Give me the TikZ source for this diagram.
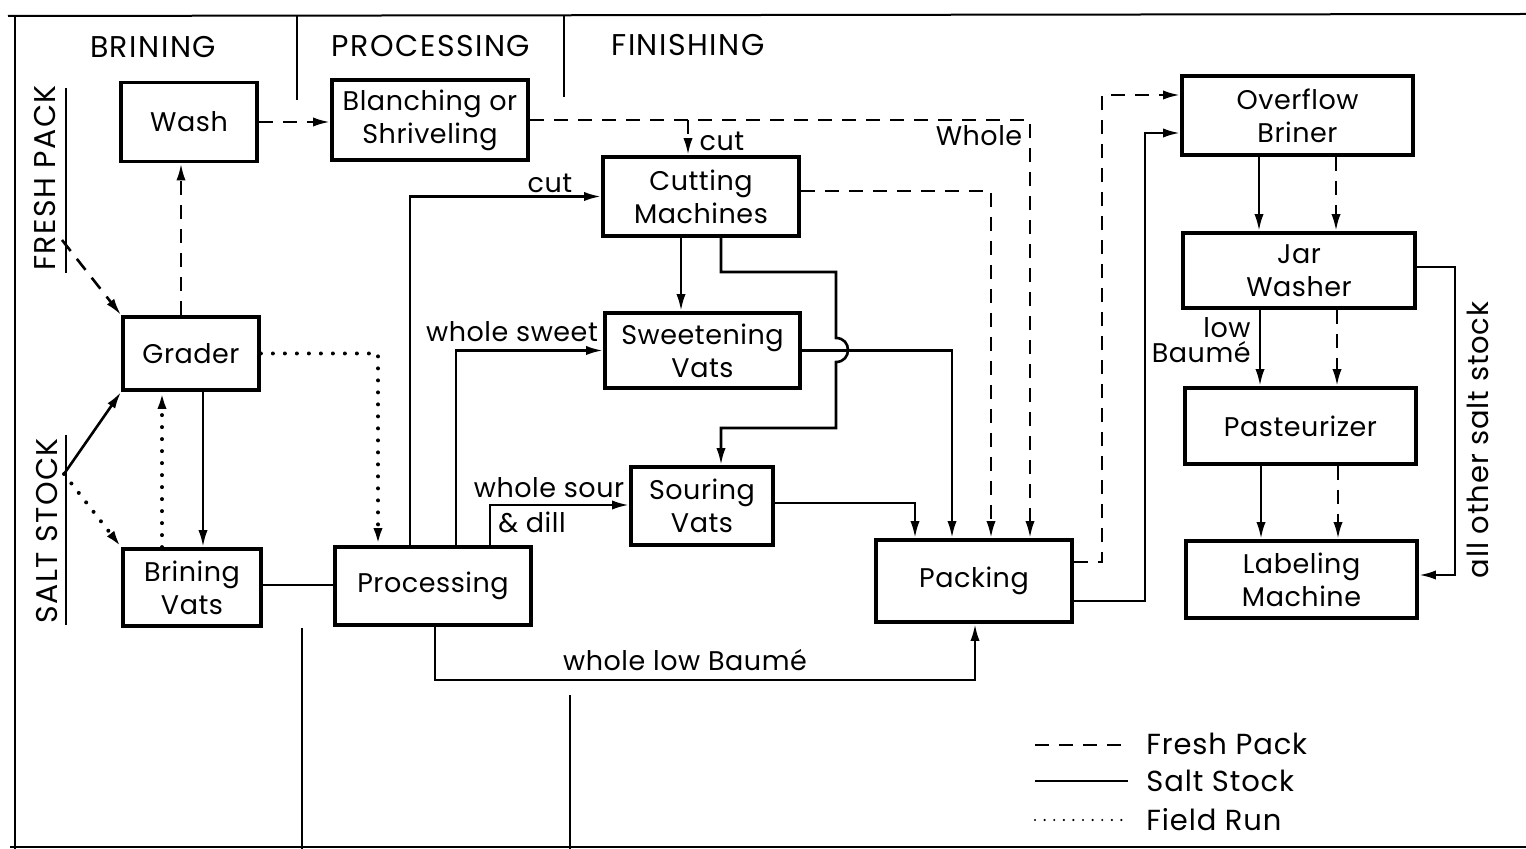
\documentclass[tikz,border=0pt]{standalone}
\usepackage{fontspec}
\setmainfont{Poppins}
\newfontfamily\hdrfont[LetterSpace=5]{Poppins}
\newfontfamily\txtfont[LetterSpace=2]{Poppins}
\newfontfamily\legfont[LetterSpace=3]{Poppins}
\usetikzlibrary{arrows.meta}
\begin{document}
\begin{tikzpicture}[x=0.5pt,y=-0.5pt,
  box/.style={draw, line width=1.9pt, align=center, inner sep=0pt, font=\txtfont\fontsize{13.5}{16.5}\selectfont},
  lbl/.style={inner sep=1pt, align=center, font=\txtfont\fontsize{13.5}{12.5}\selectfont},
  leg/.style={inner sep=1pt, font=\legfont\fontsize{14.5}{15}\selectfont},
  hdr/.style={inner sep=0pt, font=\hdrfont\fontsize{15}{16}\selectfont},
  frame/.style={line width=1pt},
  ss/.style={line width=1.3pt},
  fp/.style={line width=1.3pt, dash pattern=on 7pt off 5pt},
  fr/.style={line width=2pt, line cap=round, dash pattern=on 0pt off 6pt},
  arr/.style={-{Latex[length=8.5pt,width=4.6pt]}}
]
\useasboundingbox (0,0) rectangle (1526,849);
% frame
\draw[frame] (8,16) -- (1526,14);
\draw[frame] (15,16) -- (15,849);
\draw[frame] (10,847) -- (1526,847);
% section dividers
\draw[frame] (297,15) -- (297,100);
\draw[frame] (564,15) -- (564,97);
\draw[frame] (302,628) -- (302,849);
\draw[frame] (570,695) -- (570,849);
% headers
\node[hdr] (hb) at (153,47) {BRINING};
\node[hdr] (hp) at (431,46) {PROCESSING};
\node[hdr] (hf) at (688,45) {FINISHING};
\node[hdr, rotate=90] (fpl) at (45,178) {FRESH PACK};
\node[hdr, rotate=90] (ssl) at (47,531) {SALT STOCK};
\draw[frame] (66,88) -- (66,273);
\draw[frame] (66,435) -- (66,625);
% boxes
\node[box, minimum width=68pt, minimum height=39.5pt] (wash) at (189,122) {Wash};
\node[box, minimum width=98pt, minimum height=40pt] (blanch) at (430,120) {Blanching or\\Shriveling};
\node[box, minimum width=98pt, minimum height=39.5pt] (cut) at (701,196.5) {Cutting\\Machines};
\node[box, minimum width=68pt, minimum height=36.5pt] (grader) at (191,353.5) {Grader};
\node[box, minimum width=97.5pt, minimum height=37.5pt] (sweet) at (702.5,350.5) {Sweetening\\Vats};
\node[box, minimum width=71pt, minimum height=39pt] (sour) at (702,506) {Souring\\Vats};
\node[box, minimum width=69pt, minimum height=38.5pt] (brine) at (192,587.5) {Brining\\Vats};
\node[box, minimum width=98pt, minimum height=39pt] (proc) at (433,586) {Processing};
\node[box, minimum width=98pt, minimum height=41pt] (pack) at (974,581) {Packing};
\node[box, minimum width=115.5pt, minimum height=39.5pt] (over) at (1297.5,115.5) {Overflow\\Briner};
\node[box, minimum width=116pt, minimum height=37.5pt] (jar) at (1299,270.5) {Jar\\Washer};
\node[box, minimum width=115.5pt, minimum height=38pt] (past) at (1300.5,426) {Pasteurizer};
\node[box, minimum width=115.5pt, minimum height=38.5pt] (label) at (1301.5,579.5) {Labeling\\Machine};
% left side flows
\coordinate (fpk) at (62,240);
\coordinate (ssk) at (64,474);
\draw[fp,arr] (fpk) -- (grader.north west);
\draw[ss,arr] (ssk) -- (grader.south west);
\draw[fr,arr] (ssk) -- (brine.north west);
\draw[fp,arr] (181,0 |- grader.north) -- (181,0 |- wash.south);
\draw[fr,arr] (162,0 |- brine.north) -- (162,0 |- grader.south);
\draw[ss,arr] (203,0 |- grader.south) -- (203,0 |- brine.north);
\draw[fr,arr] (grader.east) -- (378,0 |- grader.east) -- (378,0 |- proc.north);
\draw[ss] (brine.east |- 0,585) -- (proc.west |- 0,585);
\draw[fp,arr] (wash.east) -- (wash.east -| blanch.west);
% fresh pack from blanching
\coordinate (wj) at (1030,120);
\draw[fp,arr] (blanch.east) -- (wj) -- (1030,0 |- pack.north);
\node[lbl] (whole) at (979,136) {Whole};
\draw[fp,arr] (688,120) -- (688,0 |- cut.north);
\node[lbl] (cutl1) at (722,141) {cut};
% processing outputs
\draw[ss,arr] (410,0 |- proc.north) |- (cut.west);
\node[lbl] (cutl2) at (550,183) {cut};
\draw[ss,arr] (456,0 |- proc.north) |- (sweet.west);
\node[lbl] (wsw) at (512,332) {whole sweet};
\draw[ss,arr] (490,0 |- proc.north) |- (sour.west |- 0,505);
\node[lbl] (wso) at (549,488) {whole sour};
\node[lbl] (dill) at (532,522) {\& dill};
\draw[ss,arr] (435,0 |- proc.south) -- (435,680) -| (975,0 |- pack.south);
\node[lbl] (wlb) at (685,660) {whole low Baumé};
% cutting outputs
\draw[ss,arr] (681,0 |- cut.south) -- (681,0 |- sweet.north);
\draw[ss,arr] (721,0 |- cut.south) -- (721,272) -- (836,272) -- (836,338)
  .. controls (852,338) and (852,362) .. (836,362) -- (836,428) -- (721,428) -- (721,0 |- sour.north);
\draw[fp,arr] (cut.east |- 0,191) -| (991,0 |- pack.north);
\draw[ss,arr] (sweet.east) -- (952,0 |- sweet.east) -- (952,0 |- pack.north);
\draw[ss,arr] (sour.east |- 0,503) -| (915,0 |- pack.north);
% finishing
\draw[fp,arr] (pack.east |- 0,562) -- (1102,562) |- (over.west |- 0,95);
\draw[ss,arr] (pack.east |- 0,601) -- (1145,601) |- (over.west |- 0,133);
\draw[ss,arr] (1259,0 |- over.south) -- (1259,0 |- jar.north);
\draw[fp,arr] (1336,0 |- over.south) -- (1336,0 |- jar.north);
\draw[ss,arr] (1260,0 |- jar.south) -- (1260,0 |- past.north);
\draw[fp,arr] (1337,0 |- jar.south) -- (1337,0 |- past.north);
\node[lbl, anchor=east, align=right] (lowb) at (1253,340) {low\\Baumé};
\draw[ss,arr] (1261,0 |- past.south) -- (1261,0 |- label.north);
\draw[fp,arr] (1338,0 |- past.south) -- (1338,0 |- label.north);
\draw[ss,arr] (jar.east |- 0,267) -- (1455,267) |- (label.east |- 0,575);
\node[leg, rotate=90] (aoss) at (1478,440) {all other salt stock};
% legend
\draw[fp] (1035,745) -- (1130,745);
\node[leg, anchor=west] (lfp) at (1144,744) {Fresh Pack};
\draw[ss] (1035,781) -- (1128,781);
\node[leg, anchor=west] (lss) at (1144,781) {Salt Stock};
\draw[line width=1.2pt, line cap=round, dash pattern=on 0pt off 4.8pt] (1035,820) -- (1128,820);
\node[leg, anchor=west] (lfr) at (1144,820) {Field Run};
\end{tikzpicture}
\end{document}
